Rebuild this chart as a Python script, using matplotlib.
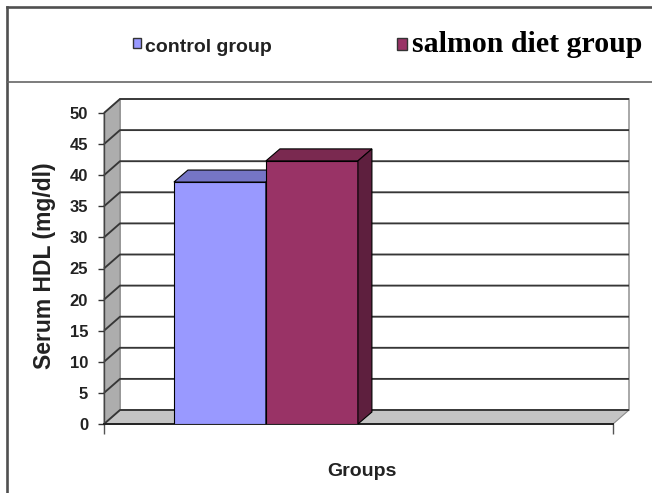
import matplotlib
matplotlib.use("Agg")
import matplotlib.pyplot as plt
from matplotlib.patches import Polygon, Rectangle
from matplotlib.lines import Line2D

# serum HDL by diet group (mg/dl)
groups = ["control group", "salmon diet group"]
hdl = [38.9, 42.3]
yticks = list(range(0, 55, 5))

FACE = ["#9999FF", "#993366"]
TOP = ["#7575C6", "#7A2950"]
SIDE = ["#5C5CA0", "#5E1F3E"]
INK = "#222222"

plt.rcParams["font.family"] = ["Liberation Sans", "DejaVu Sans"]

W, H = 652, 493
fig = plt.figure(figsize=(W / 100, H / 100), dpi=100)


def fx(x):
    return x / W


def fy(y):
    return 1 - y / H


# front plane of the 3-D box, in pixels
X0, X1, Y0, Y50 = 104, 613, 424, 113
BARW_PX = 92
ax = fig.add_axes([fx(X0), fy(Y0), (X1 - X0) / W, (Y0 - Y50) / H])
xmax = (X1 - X0) / BARW_PX
ax.set_xlim(0, xmax)
ax.set_ylim(0, 50)
ux = xmax / (X1 - X0)      # data units per pixel
uy = 50 / (Y0 - Y50)
WDX, WDY = 16 * ux, 14 * uy   # wall depth
BDX, BDY = 14 * ux, 12 * uy   # bar depth

# walls and floor
ax.add_patch(Polygon([(WDX, WDY), (xmax + WDX, WDY), (xmax + WDX, 50 + WDY), (WDX, 50 + WDY)],
                     closed=True, facecolor="white", edgecolor="#9A9A9A", lw=1.2,
                     clip_on=False, zorder=0.5))
ax.add_patch(Polygon([(0, 0), (WDX, WDY), (WDX, 50 + WDY), (0, 50)],
                     closed=True, facecolor="#ADADAD", edgecolor="#8A8A8A", lw=0.8,
                     clip_on=False, zorder=0.6))
ax.add_patch(Polygon([(0, 0), (xmax, 0), (xmax + WDX, WDY), (WDX, WDY)],
                     closed=True, facecolor="#C4C4C4", edgecolor="#8A8A8A", lw=0.8,
                     clip_on=False, zorder=0.7))

# gridlines: diagonal on the side wall, horizontal on the back wall
for v in yticks:
    ax.plot([0, WDX, xmax + WDX], [v, v + WDY, v + WDY], color="#363636",
            lw=1.35, clip_on=False, zorder=1, solid_capstyle="butt")

# 3-D columns
for i, (v, f, t, s) in enumerate(zip(hdl, FACE, TOP, SIDE)):
    x = 0.76 + i
    z = 4 + i
    ax.add_patch(Rectangle((x, 0), 1, v, facecolor=f, edgecolor="black", lw=0.8, zorder=z))
    ax.add_patch(Polygon([(x, v), (x + 1, v), (x + 1 + BDX, v + BDY), (x + BDX, v + BDY)],
                         closed=True, facecolor=t, edgecolor="black", lw=0.8,
                         clip_on=False, zorder=z))
    ax.add_patch(Polygon([(x + 1, 0), (x + 1 + BDX, BDY), (x + 1 + BDX, v + BDY), (x + 1, v)],
                         closed=True, facecolor=s, edgecolor="black", lw=0.8,
                         clip_on=False, zorder=z))

ax.set_yticks(yticks)
ax.set_yticklabels([str(t) for t in yticks], fontsize=12, fontweight="bold", color=INK)
ax.set_xticks([0, xmax])
ax.set_xticklabels(["", ""])
ax.tick_params(axis="y", length=4.5, width=1, color="#333333", pad=7)
ax.tick_params(axis="x", length=7, width=1, color="#555555")
for side in ("top", "right"):
    ax.spines[side].set_visible(False)
ax.spines["left"].set_color("#444444")
ax.spines["left"].set_linewidth(1)
ax.spines["bottom"].set_color("#222222")
ax.spines["bottom"].set_linewidth(1.4)
ax.patch.set_visible(False)

fig.text(fx(45), fy(266), "Serum HDL (mg/dl)", rotation=90, ha="center", va="center",
         fontsize=16.5, fontweight="bold", color=INK)
fig.text(fx(362), fy(476), "Groups", ha="center", va="baseline",
         fontsize=14, fontweight="bold", color=INK)

# legend strip
fig.add_artist(Rectangle((fx(133), fy(48)), 8 / W, 10 / H, transform=fig.transFigure,
                         facecolor=FACE[0], edgecolor="#333333", lw=1))
fig.text(fx(145), fy(52), groups[0], ha="left", va="baseline",
         fontsize=14, fontweight="bold", color=INK)
fig.add_artist(Rectangle((fx(397), fy(50)), 10 / W, 12 / H, transform=fig.transFigure,
                         facecolor=FACE[1], edgecolor="#333333", lw=1))
fig.text(fx(412), fy(52), groups[1], ha="left", va="baseline",
         fontsize=21.5, fontweight="bold", color="black",
         family=["Liberation Serif", "DejaVu Serif"])

# outer frame
for xs, ys, lw, c in [([7, 7], [7, 493], 1.9, "#505050"),
                      ([7, 652], [7, 7], 1.9, "#505050"),
                      ([7, 652], [82, 82], 1.2, "#666666")]:
    fig.add_artist(Line2D([fx(a) for a in xs], [fy(b) for b in ys],
                          transform=fig.transFigure, color=c, lw=lw))

fig.savefig("out.png", dpi=100)
